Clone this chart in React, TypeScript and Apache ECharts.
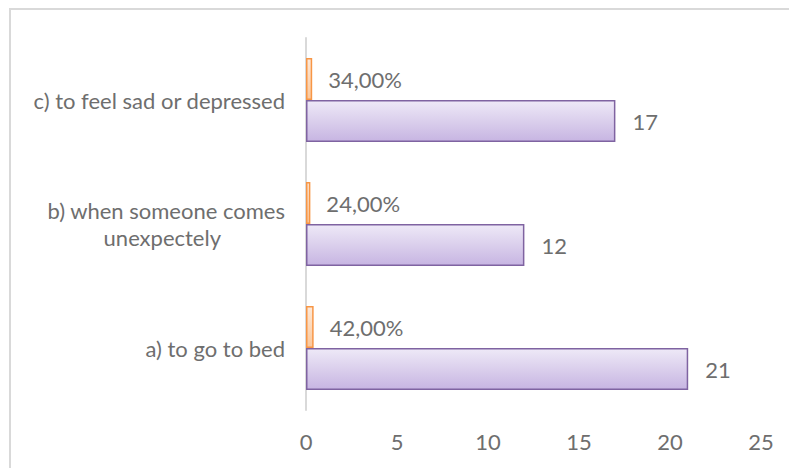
import React, { useEffect, useRef } from "react";
import * as echarts from "echarts";

const categories = ["a) to go to bed", "b) when someone comes unexpectely", "c) to feel sad or depressed"];
const counts = [21, 12, 17];
const percentages = [0.42, 0.24, 0.34];
const xTicks = { min: 0, max: 25, interval: 5 };

const FONT = "Lato";
const TEXT = "#6e6e6e";
const FS = 22;

export default function App() {
  const ref = useRef<HTMLDivElement>(null);
  useEffect(() => {
    if (!ref.current) return;
    const chart = echarts.init(ref.current, undefined, { renderer: "svg" });
    chart.setOption({
      animation: false,
      backgroundColor: "#ffffff",
      textStyle: { fontFamily: FONT },
      graphic: [
        {
          type: "rect",
          shape: { x: 10, y: 9, width: 820, height: 520 },
          style: { fill: "none", stroke: "#d9d9d9", lineWidth: 2 },
          silent: true,
        },
      ],
      grid: { left: 306, right: 28, top: 38, bottom: 58, containLabel: false },
      xAxis: {
        type: "value",
        min: xTicks.min,
        max: xTicks.max,
        interval: xTicks.interval,
        axisLine: { show: false },
        axisTick: { show: false },
        splitLine: { show: false },
        axisLabel: { color: TEXT, fontSize: FS, fontFamily: FONT, margin: 20 },
      },
      yAxis: {
        type: "category",
        data: categories,
        axisLine: { show: true, lineStyle: { color: "#d9d9d9", width: 2 } },
        axisTick: { show: false },
        axisLabel: {
          color: TEXT,
          fontSize: FS,
          fontFamily: FONT,
          margin: 21,
          lineHeight: 27,
          formatter: (v: string) => {
            if (v.startsWith("b)")) {
              return "{a|b) when someone comes}\n{b|unexpectely}";
            }
            return v;
          },
          rich: {
            a: { color: TEXT, fontSize: FS, fontFamily: FONT, lineHeight: 27 },
            b: { color: TEXT, fontSize: FS, fontFamily: FONT, lineHeight: 27, padding: [0, 64, 0, 0] },
          },
        },
      },
      series: [
        {
          type: "bar",
          name: "Percentage",
          data: percentages,
          barWidth: 42,
          barGap: "0%",
          itemStyle: {
            color: new echarts.graphic.LinearGradient(0, 0, 0, 1, [
              { offset: 0, color: "#fde9d9" },
              { offset: 1, color: "#fbc79a" },
            ]),
            borderColor: "#f79646",
            borderWidth: 1.5,
          },
          label: {
            show: true,
            position: "right",
            distance: 16,
            color: TEXT,
            fontSize: FS,
            fontFamily: FONT,
            formatter: (p: any) => (p.value * 100).toFixed(2).replace(".", ",") + "%",
          },
        },
        {
          type: "bar",
          name: "Count",
          data: counts,
          barWidth: 42,
          barGap: "0%",
          itemStyle: {
            color: new echarts.graphic.LinearGradient(0, 0, 0, 1, [
              { offset: 0, color: "#eee9f7" },
              { offset: 1, color: "#c7b5e2" },
            ]),
            borderColor: "#7f63a1",
            borderWidth: 1.5,
          },
          label: {
            show: true,
            position: "right",
            distance: 17,
            color: TEXT,
            fontSize: FS,
            fontFamily: FONT,
          },
        },
      ],
    });
    return () => chart.dispose();
  }, []);
  return (
    <div
      ref={ref}
      style={{ position: "fixed", left: 0, top: 0, width: 789, height: 468 }}
    />
  );
}
